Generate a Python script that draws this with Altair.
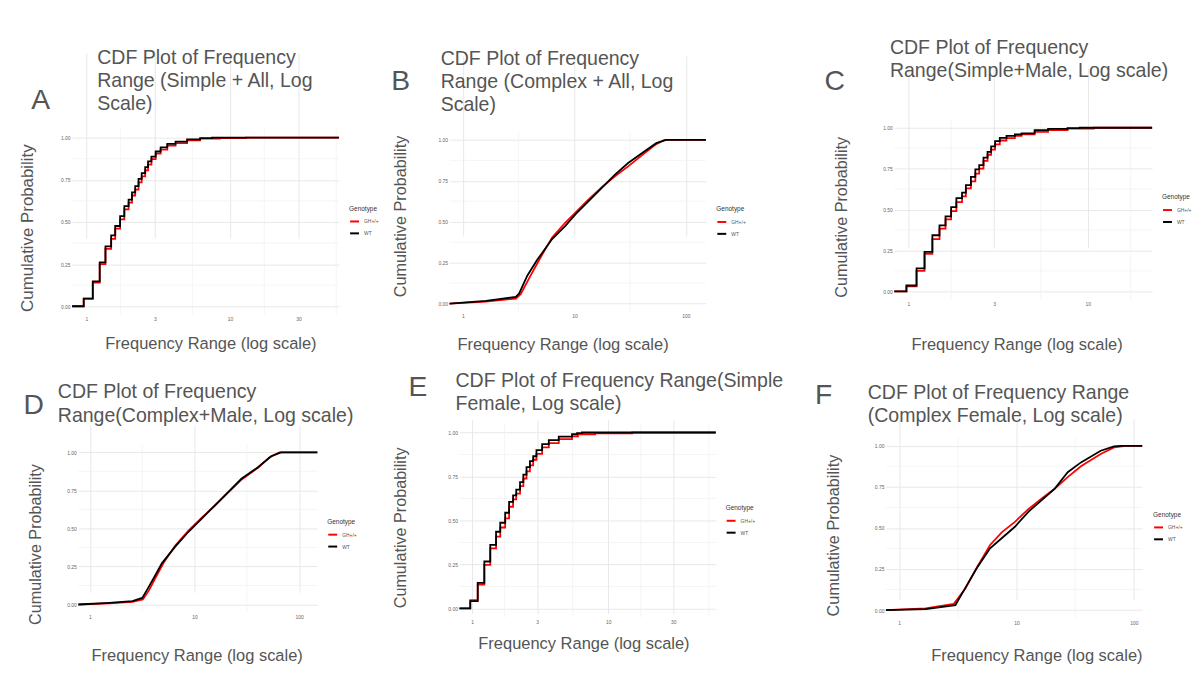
import altair as alt
import pandas as pd

GENOTYPES = ["GH+/+", "WT"]
LINE_COLORS = ["#ff0000", "#000000"]
TEXT = "#555555"
GRID_MAJOR = "#e8e8e8"
GRID_MINOR = "#f0f0f0"

Y_TICKS = [0, 0.25, 0.5, 0.75, 1.0]
Y_MINOR = [0.125, 0.375, 0.625, 0.875]

# ---------------- Panel A (Simple + All) ----------------
A_STEPS = [0.797, 0.96, 1.11, 1.24, 1.36, 1.49, 1.59, 1.72, 1.84, 1.97, 2.08, 2.19,
           2.31, 2.43, 2.57, 2.69, 2.84, 3.04, 3.29, 3.66, 4.18, 5.03, 6.2]
A_BLACK_X = A_STEPS + [7.5, 57.2]
A_BLACK_Y = [0, 0.045, 0.147, 0.26, 0.355, 0.42, 0.476, 0.535, 0.594, 0.633, 0.676, 0.712,
             0.755, 0.79, 0.825, 0.859, 0.888, 0.918, 0.943, 0.963, 0.976, 0.99, 0.997,
             1.0, 1.0]
A_RED_X = A_STEPS + [8.5, 12.9, 57.2]
A_RED_Y = [0, 0.045, 0.14, 0.25, 0.34, 0.40, 0.46, 0.515, 0.575, 0.615, 0.657, 0.692,
           0.735, 0.77, 0.806, 0.84, 0.873, 0.905, 0.929, 0.953, 0.968, 0.984, 0.994,
           0.997, 1.0, 1.0]

# ---------------- Panel B (Complex + All) ----------------
B_BLACK_X = [0.76, 1.61, 2.98, 3.19, 3.78, 4.64, 6.31, 8.29, 10.2, 13.4, 17.6, 23.1, 30.3,
             42.6, 54.1, 66.4, 150.6]
B_BLACK_Y = [0, 0.016, 0.04, 0.06, 0.17, 0.267, 0.394, 0.475, 0.545, 0.626, 0.707, 0.788,
             0.859, 0.93, 0.98, 1.0, 1.0]
B_RED_X = [0.76, 1.61, 2.98, 3.3, 3.91, 4.8, 6.31, 8.29, 10.2, 13.4, 17.6, 23.1, 30.3,
           42.6, 54.1, 64.2, 150.6]
B_RED_Y = [0, 0.012, 0.03, 0.057, 0.152, 0.263, 0.404, 0.495, 0.556, 0.636, 0.711, 0.778,
           0.838, 0.919, 0.974, 1.0, 1.0]

# ---------------- Panel C (Simple + Male) ----------------
C_STEPS = [0.834, 0.975, 1.11, 1.23, 1.36, 1.49, 1.61, 1.73, 1.85, 1.99, 2.09, 2.23, 2.36,
           2.48, 2.62, 2.76, 2.89, 3.04, 3.23, 3.52, 3.92, 4.27, 5.05, 6.0, 7.7]
C_BLACK_X = C_STEPS + [9.0, 22.8]
C_BLACK_Y = [0, 0.036, 0.141, 0.242, 0.343, 0.403, 0.459, 0.515, 0.57, 0.604, 0.65, 0.70,
             0.745, 0.771, 0.818, 0.852, 0.886, 0.918, 0.938, 0.95, 0.96, 0.966, 0.985,
             0.993, 0.998, 1.0, 1.0]
C_RED_X = C_STEPS + [10.8, 22.8]
C_RED_Y = [0, 0.03, 0.125, 0.23, 0.32, 0.383, 0.44, 0.49, 0.545, 0.58, 0.63, 0.672, 0.72,
           0.75, 0.797, 0.835, 0.866, 0.898, 0.922, 0.937, 0.95, 0.96, 0.975, 0.986, 0.994,
           1.0, 1.0]

# ---------------- Panel D (Complex + Male) ----------------
D_BLACK_X = [0.774, 1.52, 2.54, 3.16, 3.52, 4.07, 4.88, 6.53, 8.74, 11.7, 15.6, 20.9, 28.0,
             40.3, 53.9, 67.0, 149.0]
D_BLACK_Y = [0, 0.011, 0.022, 0.043, 0.098, 0.174, 0.272, 0.38, 0.478, 0.565, 0.652, 0.739,
             0.826, 0.902, 0.974, 1.0, 1.0]
D_RED_X = [0.774, 1.52, 2.54, 3.2, 3.65, 4.22, 5.07, 6.53, 8.74, 11.7, 15.6, 20.9, 28.0,
           40.3, 52.0, 64.6, 149.0]
D_RED_Y = [0, 0.007, 0.017, 0.033, 0.091, 0.174, 0.276, 0.387, 0.485, 0.57, 0.648, 0.735,
           0.82, 0.898, 0.967, 1.0, 1.0]

# ---------------- Panel E (Simple Female) ----------------
E_STEPS = [0.808, 0.97, 1.10, 1.23, 1.36, 1.50, 1.61, 1.75, 1.87, 2.0, 2.11, 2.25, 2.38,
           2.51, 2.66, 2.81, 2.97, 3.27, 3.66, 4.33, 5.42]
E_BLACK_X = E_STEPS + [5.9, 6.4, 61.6]
E_BLACK_Y = [0, 0.042, 0.145, 0.267, 0.361, 0.436, 0.487, 0.544, 0.606, 0.643, 0.675, 0.718,
             0.761, 0.803, 0.837, 0.865, 0.90, 0.934, 0.957, 0.976, 0.99, 0.996, 1.0, 1.0]
E_RED_X = E_STEPS + [6.0, 8.0, 15.0, 61.6]
E_RED_Y = [0, 0.048, 0.135, 0.248, 0.342, 0.408, 0.46, 0.512, 0.578, 0.62, 0.653, 0.695,
           0.738, 0.779, 0.813, 0.845, 0.879, 0.915, 0.94, 0.962, 0.978, 0.99, 0.995, 1.0,
           1.0]

# ---------------- Panel F (Complex Female) ----------------
F_BLACK_X = [0.77, 1.68, 3.01, 3.66, 4.59, 5.95, 7.47, 9.68, 12.6, 16.3, 21.1, 27.3, 35.4,
             52.2, 67.8, 77.0, 117.8]
F_BLACK_Y = [0, 0.006, 0.03, 0.135, 0.256, 0.376, 0.437, 0.507, 0.598, 0.668, 0.738, 0.839,
             0.899, 0.97, 0.996, 1.0, 1.0]
F_RED_X = [0.77, 1.68, 2.92, 3.66, 4.59, 5.95, 7.47, 9.68, 12.6, 16.3, 21.1, 27.3, 35.4,
           52.2, 67.8, 85.0, 117.8]
F_RED_Y = [0, 0.01, 0.038, 0.131, 0.26, 0.396, 0.473, 0.537, 0.614, 0.678, 0.738, 0.809,
           0.875, 0.95, 0.99, 1.0, 1.0]

TITLES = [
    "CDF Plot of Frequency\nRange (Simple + All, Log\nScale)",
    "CDF Plot of Frequency\nRange (Complex + All, Log\nScale)",
    "CDF Plot of Frequency\nRange(Simple+Male, Log scale)",
    "CDF Plot of Frequency\nRange(Complex+Male, Log scale)",
    "CDF Plot of Frequency Range(Simple\nFemale, Log scale)",
    "CDF Plot of Frequency Range\n(Complex Female, Log scale)",
]
LETTERS = ["A", "B", "C", "D", "E", "F"]

TICKS_1_3 = [1, 3, 10, 30]
TICKS_DEC = [1, 10, 100]
MINOR_1_3 = [1.732, 5.477, 17.32, 54.77]
MINOR_DEC = [3.162, 31.62]

# layout (pixel positions in the page) for each panel
PANELS = [
    dict(red=(A_RED_X, A_RED_Y), black=(A_BLACK_X, A_BLACK_Y), step=True,
         ox=0, oy=0, cw=395, ch=365, L=72.7, R=341.7, T=127.5, B=314.5, xl=0.797, xr=57.2,
         xticks=TICKS_1_3, xminor=MINOR_1_3,
         yt_x=32.9, yt_y=226.7, yt_fs=17, xt_x=212.2, xt_y=348.5,
         lg_x=352, lg_y=204.5, le_x=41, le_y=107, ti_x=98, ti_y=61.7),
    dict(red=(B_RED_X, B_RED_Y), black=(B_BLACK_X, B_BLACK_Y), step=False,
         ox=395, oy=0, cw=405, ch=365, L=453.3, R=711.7, T=130, B=311.5, xl=0.76, xr=150.6,
         xticks=TICKS_DEC, xminor=MINOR_DEC,
         yt_x=409, yt_y=215, yt_fs=16.4, xt_x=567.2, xt_y=350,
         lg_x=722.3, lg_y=205, le_x=404, le_y=88.3, ti_x=444.3, ti_y=62.5),
    dict(red=(C_RED_X, C_RED_Y), black=(C_BLACK_X, C_BLACK_Y), step=True,
         ox=800, oy=0, cw=402, ch=365, L=891.7, R=1151.7, T=117.75, B=299.25, xl=0.834, xr=22.8,
         xticks=[1, 3, 10], xminor=[1.732, 5.477, 17.32],
         yt_x=843.9, yt_y=215.8, yt_fs=16.3, xt_x=1015, xt_y=350,
         lg_x=1161.7, lg_y=193, le_x=831.7, le_y=88.3, ti_x=887.3, ti_y=51.5),
    dict(red=(D_RED_X, D_RED_Y), black=(D_BLACK_X, D_BLACK_Y), step=False,
         ox=0, oy=365, cw=385, ch=310, L=79, R=320, T=445.6, B=614.4, xl=0.774, xr=149.0,
         xticks=TICKS_DEC, xminor=MINOR_DEC,
         yt_x=40.5, yt_y=545.8, yt_fs=16.3, xt_x=198.3, xt_y=663.5,
         lg_x=330, lg_y=520.3, le_x=34, le_y=415, ti_x=58.3, ti_y=399),
    dict(red=(E_RED_X, E_RED_Y), black=(E_BLACK_X, E_BLACK_Y), step=True,
         ox=385, oy=365, cw=415, ch=310, L=453.3, R=711.7, T=424.4, B=619.6, xl=0.808, xr=61.6,
         xticks=TICKS_1_3, xminor=MINOR_1_3,
         yt_x=399, yt_y=529, yt_fs=16.3, xt_x=578.3, xt_y=651,
         lg_x=721.7, lg_y=506.3, le_x=411.5, le_y=396, ti_x=449.3, ti_y=387.5),
    dict(red=(F_RED_X, F_RED_Y), black=(F_BLACK_X, F_BLACK_Y), step=False,
         ox=800, oy=365, cw=402, ch=310, L=883.3, R=1141.7, T=438.4, B=620.6, xl=0.77, xr=117.8,
         xticks=TICKS_DEC, xminor=MINOR_DEC,
         yt_x=835.5, yt_y=536.7, yt_fs=16.4, xt_x=1035, xt_y=663.5,
         lg_x=1152.7, lg_y=513, le_x=820.5, le_y=405, ti_x=865, ti_y=399.5),
]

color_scale = alt.Scale(domain=GENOTYPES, range=LINE_COLORS)


def make_panel(i, p):
    ox, oy = p["ox"], p["oy"]
    xs = alt.Scale(type="log", domain=[p["xl"], p["xr"]],
                   range=[p["L"] - ox, p["R"] - ox], nice=False)
    ys = alt.Scale(domain=[-0.05, 1.05], range=[p["B"] - oy, p["T"] - oy],
                   nice=False, zero=False)
    xaxis = alt.Axis(values=p["xticks"], format=".0f", ticks=False, domain=False,
                     grid=True, gridColor=GRID_MAJOR, gridWidth=1,
                     labelFontSize=5, labelColor="#666666", labelPadding=2,
                     labelFlush=False, labelOverlap=False,
                     offset=-(p["ch"] - (p["B"] - oy)),
                     title="Frequency Range (log scale)", titleFontSize=16.6,
                     titleFontWeight="normal", titleColor=TEXT,
                     titleX=p["xt_x"] - ox, titleY=p["xt_y"] - p["B"],
                     titleAlign="center", titleBaseline="alphabetic")
    yaxis = alt.Axis(values=Y_TICKS, format=".2f", ticks=False, domain=False,
                     grid=True, gridColor=GRID_MAJOR, gridWidth=1,
                     labelFontSize=5, labelColor="#666666", labelPadding=2,
                     labelOverlap=False, labelFlush=False,
                     offset=-(p["L"] - ox),
                     title="Cumulative Probability", titleFontSize=p["yt_fs"],
                     titleFontWeight="normal", titleColor=TEXT,
                     titleX=p["yt_x"] - p["L"], titleY=p["yt_y"] - oy,
                     titleAngle=270, titleAlign="center", titleBaseline="alphabetic")
    legend = alt.Legend(orient="none", legendX=p["lg_x"] - ox, legendY=p["lg_y"] - oy,
                        title="Genotype", titleFontSize=6.5, titleFontWeight="normal",
                        titleColor="#333333", titlePadding=4,
                        labelFontSize=5, labelColor="#555555", labelOffset=4,
                        symbolType="stroke", symbolStrokeWidth=2, symbolSize=81,
                        rowPadding=2)

    X = alt.X("x:Q", scale=xs, axis=xaxis)
    Y = alt.Y("y:Q", scale=ys, axis=yaxis)

    vgrid = alt.Chart(pd.DataFrame({"x": p["xminor"]})).mark_rule(
        color=GRID_MINOR, strokeWidth=0.7).encode(
        x=X, y=alt.YDatum(-0.05, scale=ys, axis=yaxis), y2=alt.Y2Datum(1.05))
    hgrid = alt.Chart(pd.DataFrame({"y": Y_MINOR})).mark_rule(
        color=GRID_MINOR, strokeWidth=0.7).encode(
        y=Y, x=alt.XDatum(p["xl"], scale=xs, axis=xaxis), x2=alt.X2Datum(p["xr"]))

    interp = "step-after" if p["step"] else "linear"
    layers = [hgrid, vgrid]
    for g, (xv, yv) in zip(GENOTYPES, [p["red"], p["black"]]):
        df = pd.DataFrame({"x": xv, "y": yv, "g": g})
        layers.append(
            alt.Chart(df).mark_line(interpolate=interp, strokeWidth=1.8).encode(
                x=X, y=Y,
                color=alt.Color("g:N", scale=color_scale, legend=legend)))

    letter = alt.Chart(pd.DataFrame({"t": [LETTERS[i]]})).mark_text(
        fontSize=28.5, color=TEXT, align="center", baseline="alphabetic").encode(
        x=alt.value(p["le_x"] - ox), y=alt.value(p["le_y"] - oy), text="t:N")
    title = alt.Chart(pd.DataFrame({"t": [TITLES[i]]})).mark_text(
        fontSize=19.7, lineHeight=23.4, lineBreak="\n", color=TEXT,
        align="left", baseline="alphabetic").encode(
        x=alt.value(p["ti_x"] - ox), y=alt.value(p["ti_y"] - oy), text="t:N")
    layers += [letter, title]
    return alt.layer(*layers).properties(
        width=p["cw"], height=p["ch"],
        view=alt.ViewBackground(stroke="transparent", strokeWidth=0))


charts = [make_panel(i, p) for i, p in enumerate(PANELS)]

chart = alt.concat(*charts, columns=3, spacing=0, bounds="flush", align="none").resolve_scale(
    color="independent").resolve_legend(color="independent").configure_view(
    stroke="transparent", strokeWidth=0).configure(
    font="Liberation Sans", background="white").properties(padding=0)

chart.save("out.html", embed_options={"renderer": "svg", "actions": False})
